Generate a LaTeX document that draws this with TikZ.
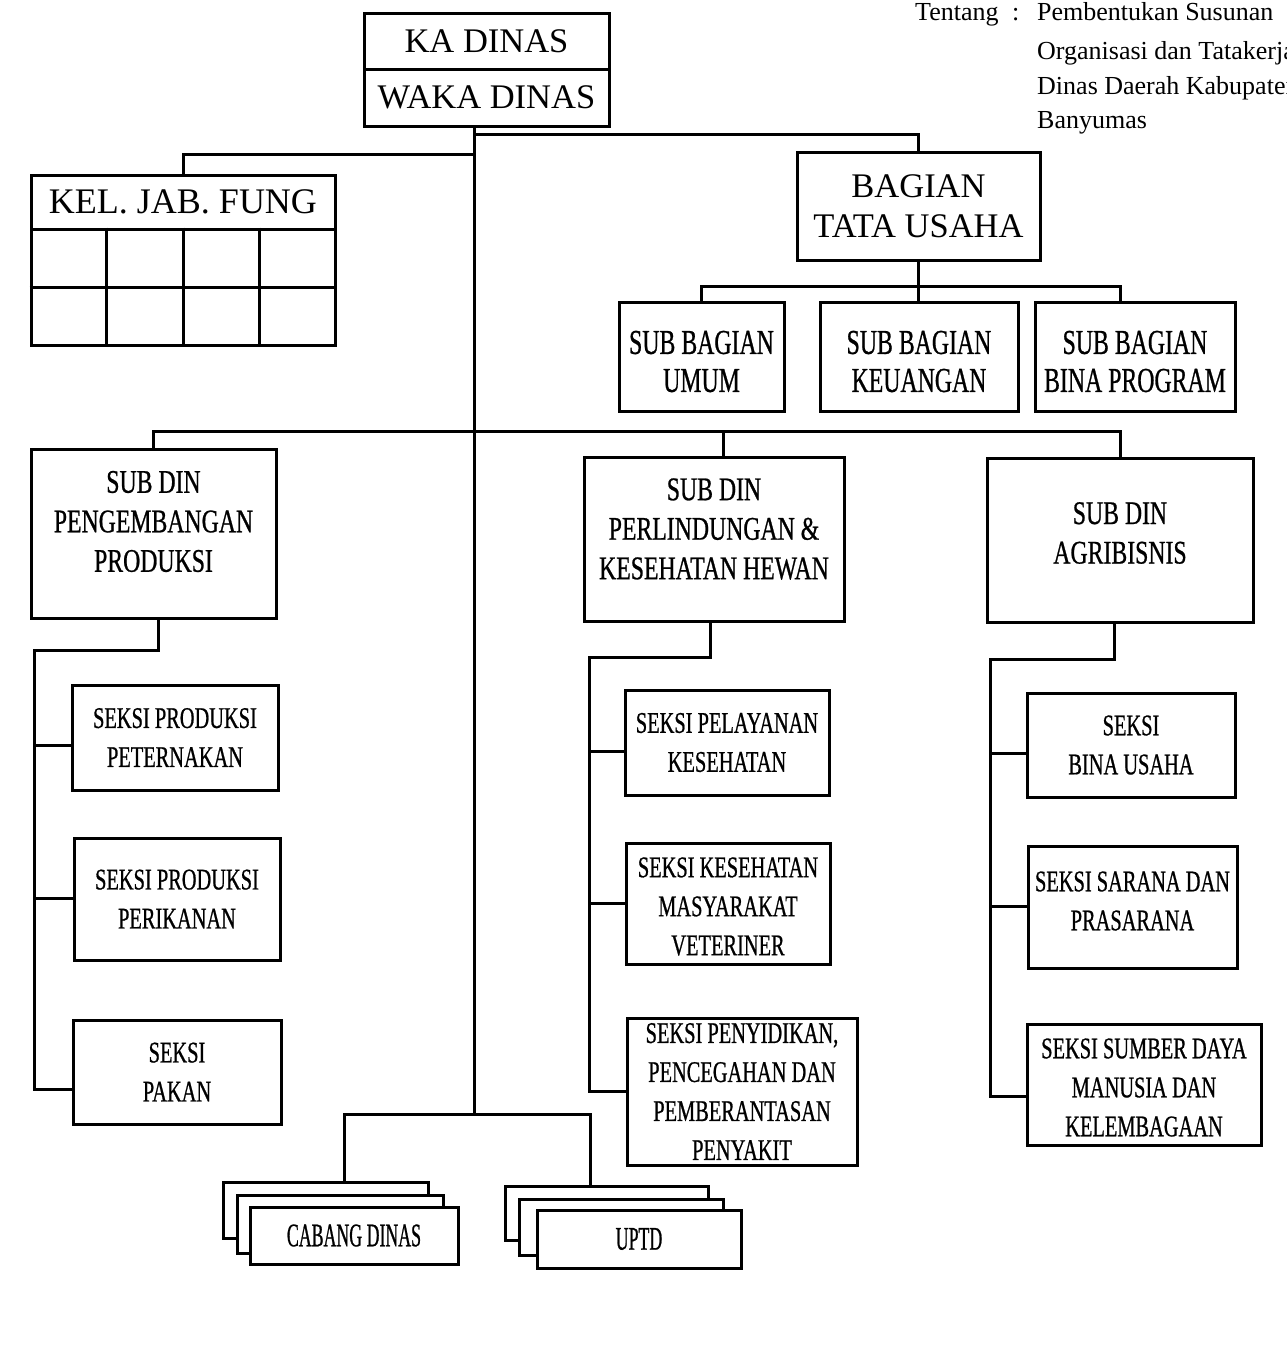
\documentclass[tikz,border=0pt]{standalone}
\usepackage{fontspec}
\setmainfont{Liberation Serif}
\newfontfamily\condfont[FakeStretch=0.68,FakeBold=0.7]{Liberation Serif}
\newfontfamily\widecondfont[FakeStretch=0.72,FakeBold=0.7]{Liberation Serif}
\newfontfamily\narrowfont[FakeStretch=0.54,FakeBold=0.7]{Liberation Serif}
\usetikzlibrary{calc}

\tikzset{
  frame/.style={draw, line width=3pt, fill=white, inner sep=0pt},
  link/.style={line width=3pt, line join=miter},
  big/.style={font=\fontsize{34.5}{40}\selectfont, align=center},
  kelfont/.style={font=\fontsize{36}{40}\selectfont},
  subbag/.style={font=\condfont\fontsize{35}{38}\selectfont, align=center},
  subdin/.style={font=\widecondfont\fontsize{33}{39.5}\selectfont, align=center},
  seksi/.style={font=\condfont\fontsize{30}{39}\selectfont, align=center},
  unit/.style={font=\narrowfont\fontsize{33}{39}\selectfont},
  note/.style={font=\fontsize{26}{30}\selectfont, anchor=base west, inner sep=0pt}
}

% box from its corners: name, x1, y1, x2, y2, text style, text
\newcommand\orgbox[7]{%
  \node[frame, minimum width={(#4)-(#2)}, minimum height={(#5)-(#3)}]
    (#1) at ({((#2)+(#4))/2},{((#3)+(#5))/2}) {};
  \node[#6] (#1-t) at (#1.center) {#7};}

\begin{document}
\begin{tikzpicture}[x=1pt,y=-1pt]
\path[use as bounding box, fill=white] (0,0) rectangle (1287,1358);
\clip (0,0) rectangle (1287,1358);

% heading note
\node[note] (tn1) at (915,20) {Tentang};
\node[note] (tn2) at (1012,20) {:};
\node[note] (tn3) at (1037,20) {Pembentukan Susunan};
\node[note] (tn4) at (1037,59) {Organisasi dan Tatakerja};
\node[note] (tn5) at (1037,94) {Dinas Daerah Kabupaten};
\node[note] (tn6) at (1037,128) {Banyumas};

% head of office
\orgbox{ka}{364}{13}{609}{69}{big}{KA DINAS}
\orgbox{waka}{364}{69}{609}{126}{big}{WAKA DINAS}

% functional group with its grid
\orgbox{kel}{31}{175}{335}{229}{kelfont}{KEL. JAB. FUNG}
\node[frame, minimum width=304, minimum height=116] (kelgrid) at (183,287) {};
\draw[link] (kelgrid.west) -- (kelgrid.east);
\foreach \f in {0.25,0.5,0.75}
  \draw[link] ($(kelgrid.north west)!\f!(kelgrid.north east)$) -- ($(kelgrid.south west)!\f!(kelgrid.south east)$);

% secretariat
\orgbox{bagtu}{797}{152}{1040}{260}{big}{BAGIAN\\TATA USAHA}
\orgbox{umum}{619}{302}{784}{411}{subbag, yshift=-5pt}{SUB BAGIAN\\UMUM}
\orgbox{keu}{820}{302}{1018}{411}{subbag, yshift=-5pt}{SUB BAGIAN\\KEUANGAN}
\orgbox{bina}{1035}{302}{1235}{411}{subbag, yshift=-5pt}{SUB BAGIAN\\BINA PROGRAM}

% sub-departments
\orgbox{peng}{31}{449}{276}{618}{subdin, yshift=12pt}{SUB DIN\\PENGEMBANGAN\\PRODUKSI}
\orgbox{perl}{584}{457}{844}{621}{subdin, yshift=10pt}{SUB DIN\\PERLINDUNGAN \&\\KESEHATAN HEWAN}
\orgbox{agri}{987}{458}{1253}{622}{subdin, yshift=7pt}{SUB DIN\\AGRIBISNIS}

% sections
\orgbox{peter}{72}{685}{278}{790}{seksi}{SEKSI PRODUKSI\\PETERNAKAN}
\orgbox{ikan}{74}{838}{280}{960}{seksi}{SEKSI PRODUKSI\\PERIKANAN}
\orgbox{pakan}{73}{1020}{281}{1124}{seksi}{SEKSI\\PAKAN}
\orgbox{layan}{625}{690}{829}{795}{seksi}{SEKSI PELAYANAN\\KESEHATAN}
\orgbox{kesmav}{626}{843}{830}{964}{seksi, yshift=-3pt}{SEKSI KESEHATAN\\MASYARAKAT\\VETERINER}
\orgbox{sidik}{627}{1018}{857}{1165}{seksi}{SEKSI PENYIDIKAN,\\PENCEGAHAN DAN\\PEMBERANTASAN\\PENYAKIT}
\orgbox{usaha}{1027}{693}{1235}{797}{seksi}{SEKSI\\BINA USAHA}
\orgbox{sarana}{1028}{846}{1237}{968}{seksi, yshift=6pt}{SEKSI SARANA DAN\\PRASARANA}
\orgbox{sdm}{1027}{1024}{1261}{1145}{seksi, yshift=-3pt}{SEKSI SUMBER DAYA\\MANUSIA DAN\\KELEMBAGAAN}

% branch offices, stacked
\orgbox{cab3}{223}{1182}{428}{1238}{unit}{}
\orgbox{cab2}{237}{1195}{443}{1253}{unit}{}
\orgbox{cab1}{250}{1207}{458}{1264}{unit}{CABANG DINAS}
\orgbox{upt3}{505}{1186}{708}{1240}{unit}{}
\orgbox{upt2}{519}{1199}{723}{1255}{unit}{}
\orgbox{upt1}{537}{1210}{741}{1268}{unit}{UPTD}

% main trunk
\coordinate (trunkEnd) at (474,1114);
\draw[link] (waka.south -| trunkEnd) -- (trunkEnd);
\coordinate (jTU) at (474,134);
\draw[link] (jTU) -| (bagtu.north);
\coordinate (jKel) at (474,154);
\draw[link] (jKel) -| (kel.north);

% secretariat to its sub-divisions
\coordinate (sbBus) at (1120,286);
\draw[link] (bagtu.south) -- (bagtu.south |- keu.north);
\draw[link] (umum.north) |- (sbBus) -- (sbBus |- bina.north);

% trunk to sub-departments
\coordinate (sdBus) at (1120,431);
\draw[link] (peng.north) |- (sdBus) -- (sdBus |- agri.north);
\coordinate (jPerl) at (723,431);
\draw[link] (jPerl) -- (jPerl |- perl.north);

% production sections
\coordinate (pgTop) at (158,650);
\coordinate (pg1) at (34,745);
\coordinate (pg2) at (34,898);
\coordinate (pg3) at (34,1089);
\draw[link] (peng.south -| pgTop) -- (pgTop) -- (pgTop -| pg1) -- (pg3) -- (pg3 -| pakan.west);
\draw[link] (pg1) -- (pg1 -| peter.west);
\draw[link] (pg2) -- (pg2 -| ikan.west);

% animal health sections
\coordinate (plTop) at (710,657);
\coordinate (pl1) at (589,751);
\coordinate (pl2) at (589,903);
\coordinate (pl3) at (589,1091);
\draw[link] (perl.south -| plTop) -- (plTop) -- (plTop -| pl1) -- (pl3) -- (pl3 -| sidik.west);
\draw[link] (pl1) -- (pl1 -| layan.west);
\draw[link] (pl2) -- (pl2 -| kesmav.west);

% agribusiness sections
\coordinate (agTop) at (1114,659);
\coordinate (ag1) at (990,753);
\coordinate (ag2) at (990,906);
\coordinate (ag3) at (990,1096);
\draw[link] (agri.south -| agTop) -- (agTop) -- (agTop -| ag1) -- (ag3) -- (ag3 -| sdm.west);
\draw[link] (ag1) -- (ag1 -| usaha.west);
\draw[link] (ag2) -- (ag2 -| sarana.west);

% trunk foot to branch offices and units
\coordinate (cbJ) at (344,1114);
\coordinate (upJ) at (590,1114);
\draw[link] (cbJ |- cab3.north) -- (cbJ) -- (upJ) -- (upJ |- upt3.north);
\end{tikzpicture}
\end{document}
